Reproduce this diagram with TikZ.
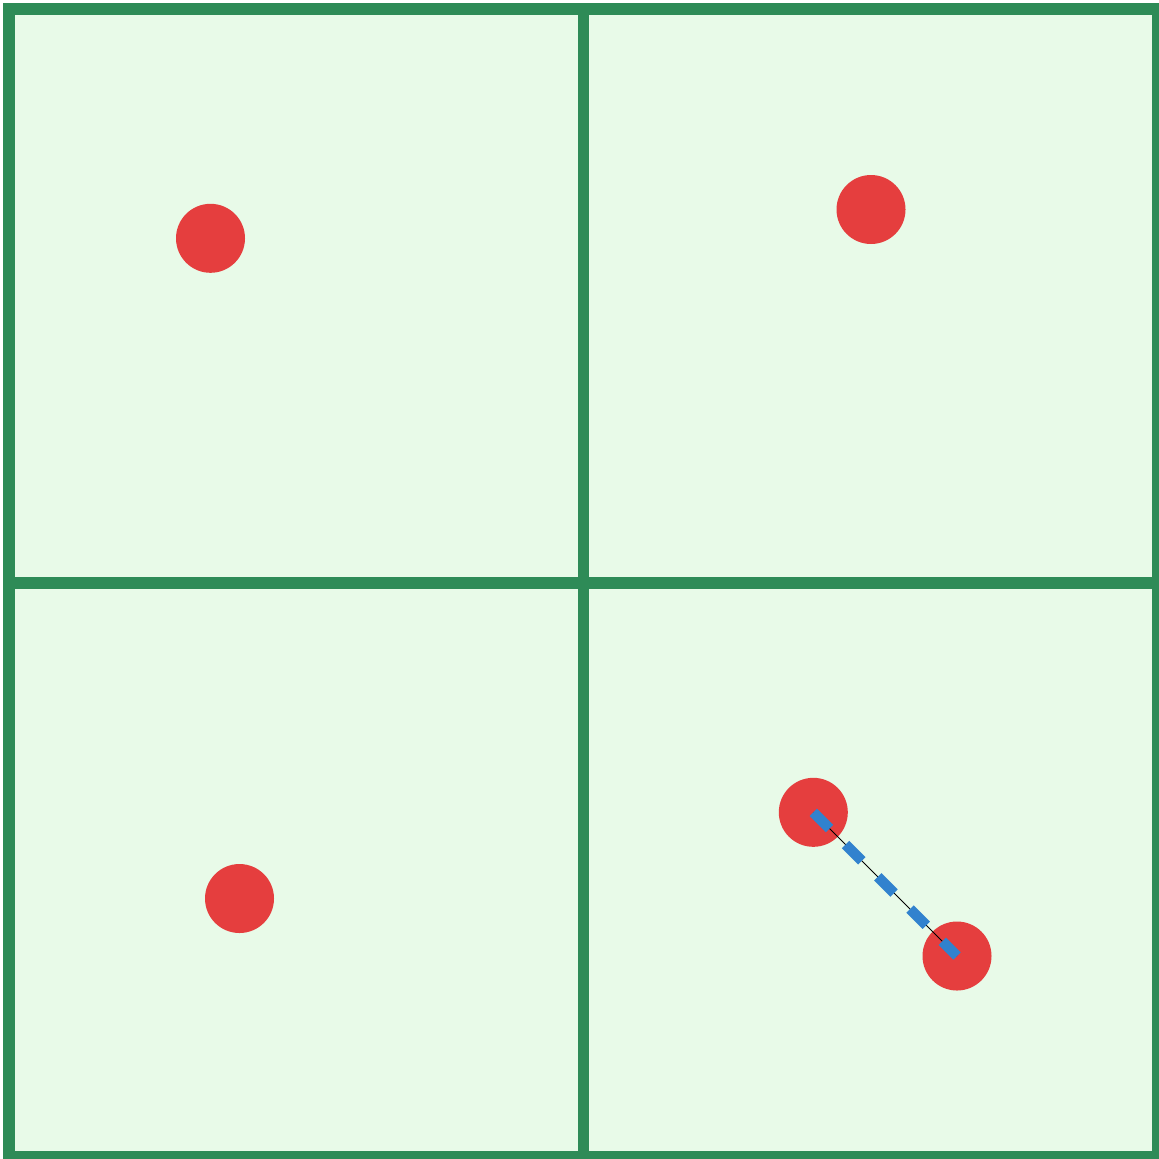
\documentclass[tikz,border=0pt]{standalone}
\usepackage{tikz}
\usepackage{xcolor}
\usetikzlibrary{positioning}
\definecolor{cellgreen}{HTML}{2E8B57}
\definecolor{cellfill}{HTML}{E8FAE8}
\definecolor{pointred}{HTML}{E53E3E}
\definecolor{pairblue}{HTML}{3182CE}
\begin{document}
\begin{tikzpicture}[x=0.5pt,y=-0.5pt,
  point/.style={circle,fill=pointred,inner sep=0pt,minimum size=34.5pt},
  gridline/.style={line width=5.6pt,cellgreen}]
\useasboundingbox (0,0) rectangle (1159,1158);
\fill[cellfill] (9,9) rectangle (1157.5,1157);
\draw[gridline] (9,9) rectangle (1157.5,1157);
\draw[gridline] (583.3,9)--(583.3,1157);
\draw[gridline] (9,583)--(1157.5,583);
\node[point] (p1) at (210.5,238.3) {};
\node[point] (p2) at (871,209.5) {};
\node[point] (p3) at (239.5,898.5) {};
\node[point] (p4) at (813.3,812.3) {};
\node[point] (p5) at (957,956) {};
\draw[black,line width=0.5pt] (p4.center)--(p5.center);
\draw[pairblue,line width=5.2pt,dash pattern=on 11.5pt off 11.3pt] (p4.center)--(p5.center);
\end{tikzpicture}
\end{document}
